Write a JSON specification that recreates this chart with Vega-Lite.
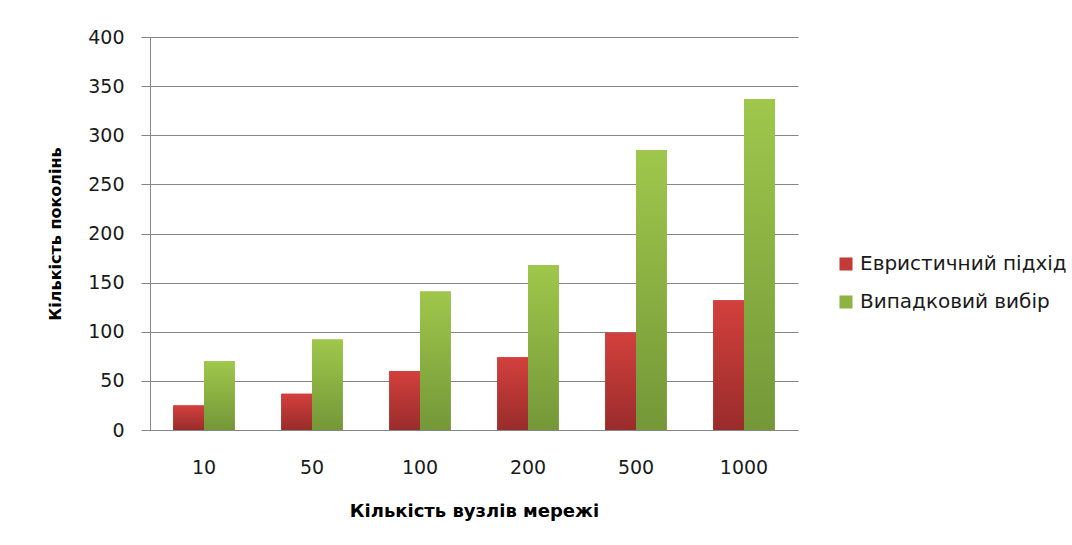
{
  "$schema": "https://vega.github.io/schema/vega-lite/v6.json",
  "autosize": {"type": "none"},
  "width": 648,
  "height": 393,
  "padding": {"left": 150, "top": 37, "right": 274, "bottom": 115},
  "background": "white",
  "data": {
    "values": [
      {"n": "10", "series": "Евристичний підхід", "v": 25},
      {"n": "10", "series": "Випадковий вибір", "v": 70},
      {"n": "50", "series": "Евристичний підхід", "v": 37},
      {"n": "50", "series": "Випадковий вибір", "v": 92},
      {"n": "100", "series": "Евристичний підхід", "v": 60},
      {"n": "100", "series": "Випадковий вибір", "v": 141},
      {"n": "200", "series": "Евристичний підхід", "v": 74},
      {"n": "200", "series": "Випадковий вибір", "v": 168},
      {"n": "500", "series": "Евристичний підхід", "v": 99},
      {"n": "500", "series": "Випадковий вибір", "v": 285},
      {"n": "1000", "series": "Евристичний підхід", "v": 132},
      {"n": "1000", "series": "Випадковий вибір", "v": 337}
    ]
  },
  "encoding": {
    "x": {
      "field": "n", "type": "nominal",
      "sort": ["10", "50", "100", "200", "500", "1000"],
      "scale": {"paddingInner": 0.43, "paddingOuter": 0.215},
      "axis": {
        "title": "Кількість вузлів мережі",
        "titleFontSize": 18,
        "labelAngle": 0,
        "ticks": false,
        "labelPadding": 28,
        "titlePadding": 25,
        "grid": false
      }
    },
    "xOffset": {"field": "series", "type": "nominal", "sort": ["Евристичний підхід", "Випадковий вибір"]},
    "y": {
      "field": "v", "type": "quantitative",
      "scale": {"domain": [0, 400]},
      "axis": {
        "title": "Кількість поколінь",
        "values": [0, 50, 100, 150, 200, 250, 300, 350, 400],
        "tickSize": 9,
        "labelPadding": 17,
        "titlePadding": 24,
        "grid": true
      }
    }
  },
  "layer": [
    {
      "mark": {"type": "bar"},
      "encoding": {
        "color": {
          "field": "series", "type": "nominal",
          "sort": ["Евристичний підхід", "Випадковий вибір"],
          "scale": {"domain": ["Евристичний підхід", "Випадковий вибір"], "range": ["#c23a37", "#8db443"]},
          "legend": {"title": null, "orient": "none", "legendX": 686, "legendY": 217}
        }
      }
    },
    {
      "transform": [{"filter": "datum.series == 'Евристичний підхід'"}],
      "mark": {
        "type": "bar",
        "fill": {"gradient": "linear", "x1": 0, "y1": 0, "x2": 0, "y2": 1,
          "stops": [{"offset": 0, "color": "#d3403d"}, {"offset": 1, "color": "#992c2b"}]}
      }
    },
    {
      "transform": [{"filter": "datum.series == 'Випадковий вибір'"}],
      "mark": {
        "type": "bar",
        "fill": {"gradient": "linear", "x1": 0, "y1": 0, "x2": 0, "y2": 1,
          "stops": [{"offset": 0, "color": "#9fc74b"}, {"offset": 1, "color": "#749738"}]}
      }
    }
  ],
  "config": {
    "view": {"stroke": null},
    "font": "DejaVu Sans",
    "axis": {
      "labelFont": "DejaVu Sans",
      "labelFontSize": 19,
      "labelColor": "#1a1a1a",
      "titleFont": "DejaVu Sans",
      "titleFontSize": 16,
      "titleFontWeight": "bold",
      "titleColor": "#000000",
      "domainColor": "#868686",
      "domainWidth": 1,
      "gridColor": "#868686",
      "gridWidth": 1,
      "gridOpacity": 1,
      "tickColor": "#868686",
      "tickWidth": 1
    },
    "legend": {
      "labelFont": "DejaVu Sans",
      "labelFontSize": 20,
      "labelColor": "#1a1a1a",
      "symbolType": "square",
      "symbolSize": 170,
      "symbolStrokeWidth": 0,
      "rowPadding": 18,
      "labelOffset": 4,
      "padding": 0,
      "labelLimit": 400
    }
  }
}
